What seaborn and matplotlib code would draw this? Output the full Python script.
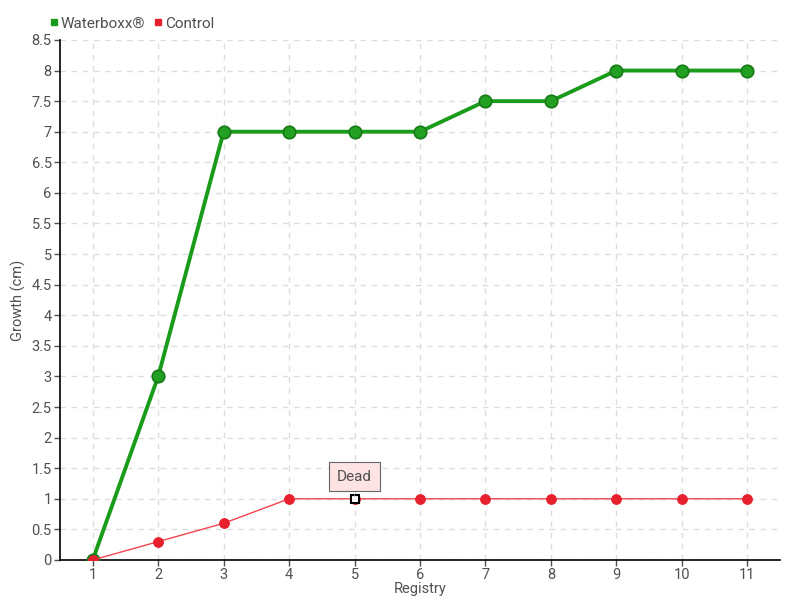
import matplotlib
matplotlib.use("Agg")
import matplotlib.pyplot as plt
from matplotlib.lines import Line2D
import seaborn as sns
import pandas as pd

registry = [1, 2, 3, 4, 5, 6, 7, 8, 9, 10, 11]
waterboxx = [0, 3, 7, 7, 7, 7, 7.5, 7.5, 8, 8, 8]
control = [0, 0.3, 0.6, 1, 1, 1, 1, 1, 1, 1, 1]
dead_index = 4
y_ticks = [0, 0.5, 1, 1.5, 2, 2.5, 3, 3.5, 4, 4.5, 5, 5.5, 6, 6.5, 7, 7.5, 8, 8.5]

sns.set_style("white")
plt.rcParams['font.family'] = ['Roboto', 'DejaVu Sans']
text_color = '#505050'

df = pd.DataFrame({'Registry': registry, 'Waterboxx®': waterboxx, 'Control': control})

fig = plt.figure(figsize=(8, 6), dpi=100)
ax = fig.add_axes([0.075, 0.0667, 0.9, 0.8667])

green = '#1a9c1a'
red = '#e8202e'

sns.lineplot(data=df, x='Registry', y='Waterboxx®', ax=ax, color=green, linewidth=2.8,
             marker='o', markersize=9, markerfacecolor='#22a022', markeredgecolor='#177a17',
             markeredgewidth=1.2, zorder=3)
sns.lineplot(data=df, x='Registry', y='Control', ax=ax, color='#f0454f', linewidth=1,
             marker='o', markersize=7, markerfacecolor=red, markeredgecolor=red, zorder=4)

# dead marker
ax.plot(registry[dead_index], control[dead_index], marker='s', markersize=6,
        markerfacecolor='white', markeredgecolor='black', markeredgewidth=1.5,
        linestyle='none', zorder=6)
ax.annotate('Dead', xy=(registry[dead_index], control[dead_index]), xytext=(0, 16),
            textcoords='offset points', ha='center', va='center', fontsize=11,
            color=text_color,
            bbox=dict(boxstyle='square,pad=0.5', fc='#fde3e3', ec='#666666', lw=0.8),
            arrowprops=dict(arrowstyle='-', color='#666666', lw=0.8), zorder=7)

ax.set_xlim(0.5, 11.5)
ax.set_ylim(0, 8.5)
ax.set_xticks(registry)
ax.set_yticks(y_ticks)
ax.set_yticklabels([f'{t:g}' for t in y_ticks])
ax.grid(True, color='#dddddd', linestyle=(0, (4, 4)), linewidth=1)
ax.set_axisbelow(True)

for s in ['top', 'right']:
    ax.spines[s].set_visible(False)
for s in ['left', 'bottom']:
    ax.spines[s].set_color('black')
    ax.spines[s].set_linewidth(1.2)

ax.tick_params(axis='both', colors=text_color, labelsize=10.5, length=4, width=1,
               direction='out', left=True, bottom=True, pad=2)
ax.set_xlabel('Registry', fontsize=10.5, color=text_color, labelpad=0)
ax.set_ylabel('Growth (cm)', fontsize=10.5, color=text_color, labelpad=4)

# legend at top-left
handles = [Line2D([], [], marker='s', color=green, linestyle='none', markersize=5),
           Line2D([], [], marker='s', color=red, linestyle='none', markersize=5)]
leg = fig.legend(handles, ['Waterboxx®', 'Control'], loc='upper left',
                 bbox_to_anchor=(0.045, 0.995), ncol=2, frameon=False, fontsize=11,
                 handlelength=0.5, handletextpad=0.2, columnspacing=0.6)
for t in leg.get_texts():
    t.set_color(text_color)

fig.savefig('out.png', dpi=100)
